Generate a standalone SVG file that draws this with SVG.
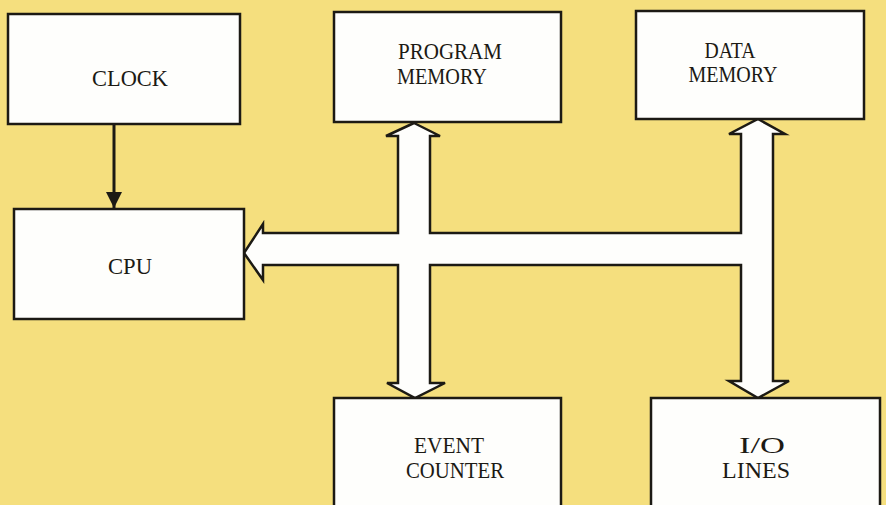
<svg xmlns="http://www.w3.org/2000/svg" width="886" height="505" viewBox="0 0 886 505">
<defs>
<style>
.box{fill:#fefefc;stroke:#1c1a14;stroke-width:2.5}
.lbl{font-family:"Liberation Serif","DejaVu Serif",serif;font-size:23px;fill:#1c1a14;text-anchor:middle}
.bus{fill:#fefefc;stroke:#1c1a14;stroke-width:2.5;stroke-linejoin:miter}
</style>
<marker id="ah" viewBox="0 0 10 10" refX="10" refY="5" markerWidth="5.5" markerHeight="5.5" markerUnits="strokeWidth" orient="auto">
<path d="M0,0 L10,5 L0,10 z" fill="#1c1a14"/>
</marker>
</defs>
<rect width="886" height="505" fill="#f5df7e"/>
<g id="connectors">
<line x1="114" y1="124" x2="114" y2="208" stroke="#1c1a14" stroke-width="3" marker-end="url(#ah)"/>
<polygon class="bus" points="414,123 440,136 430,136 430,233 741,233 741,134 729,134 758,119 785,134 773,134 773,381 789,381 758,398 729,381 741,381 741,265 430,265 430,383 445,383 415,398 387,383 398,383 398,265 263,265 263,280 244,253 263,224 263,233 398,233 398,136 386,136"/>
</g>
<g id="clock">
<rect class="box" x="8" y="14" width="232" height="110"/>
<text class="lbl" x="130" y="86" textLength="76" lengthAdjust="spacingAndGlyphs">CLOCK</text>
</g>
<g id="program-memory">
<rect class="box" x="334" y="12" width="227" height="110"/>
<text class="lbl" x="450" y="59" textLength="104" lengthAdjust="spacingAndGlyphs">PROGRAM</text>
<text class="lbl" x="442" y="84" textLength="90" lengthAdjust="spacingAndGlyphs">MEMORY</text>
</g>
<g id="data-memory">
<rect class="box" x="636" y="11" width="228" height="108"/>
<text class="lbl" x="730" y="58" textLength="51" lengthAdjust="spacingAndGlyphs">DATA</text>
<text class="lbl" x="733" y="82" textLength="89" lengthAdjust="spacingAndGlyphs">MEMORY</text>
</g>
<g id="cpu">
<rect class="box" x="14" y="209" width="230" height="110"/>
<text class="lbl" x="130" y="274" textLength="44" lengthAdjust="spacingAndGlyphs">CPU</text>
</g>
<g id="event-counter">
<rect class="box" x="334" y="398" width="227" height="120"/>
<text class="lbl" x="449" y="453" textLength="70" lengthAdjust="spacingAndGlyphs">EVENT</text>
<text class="lbl" x="455" y="478" textLength="98" lengthAdjust="spacingAndGlyphs">COUNTER</text>
</g>
<g id="io-lines">
<rect class="box" x="651" y="398" width="229" height="120"/>
<text class="lbl" x="762" y="453" textLength="46" lengthAdjust="spacingAndGlyphs">I/O</text>
<text class="lbl" x="756" y="478" textLength="68" lengthAdjust="spacingAndGlyphs">LINES</text>
</g>
</svg>
